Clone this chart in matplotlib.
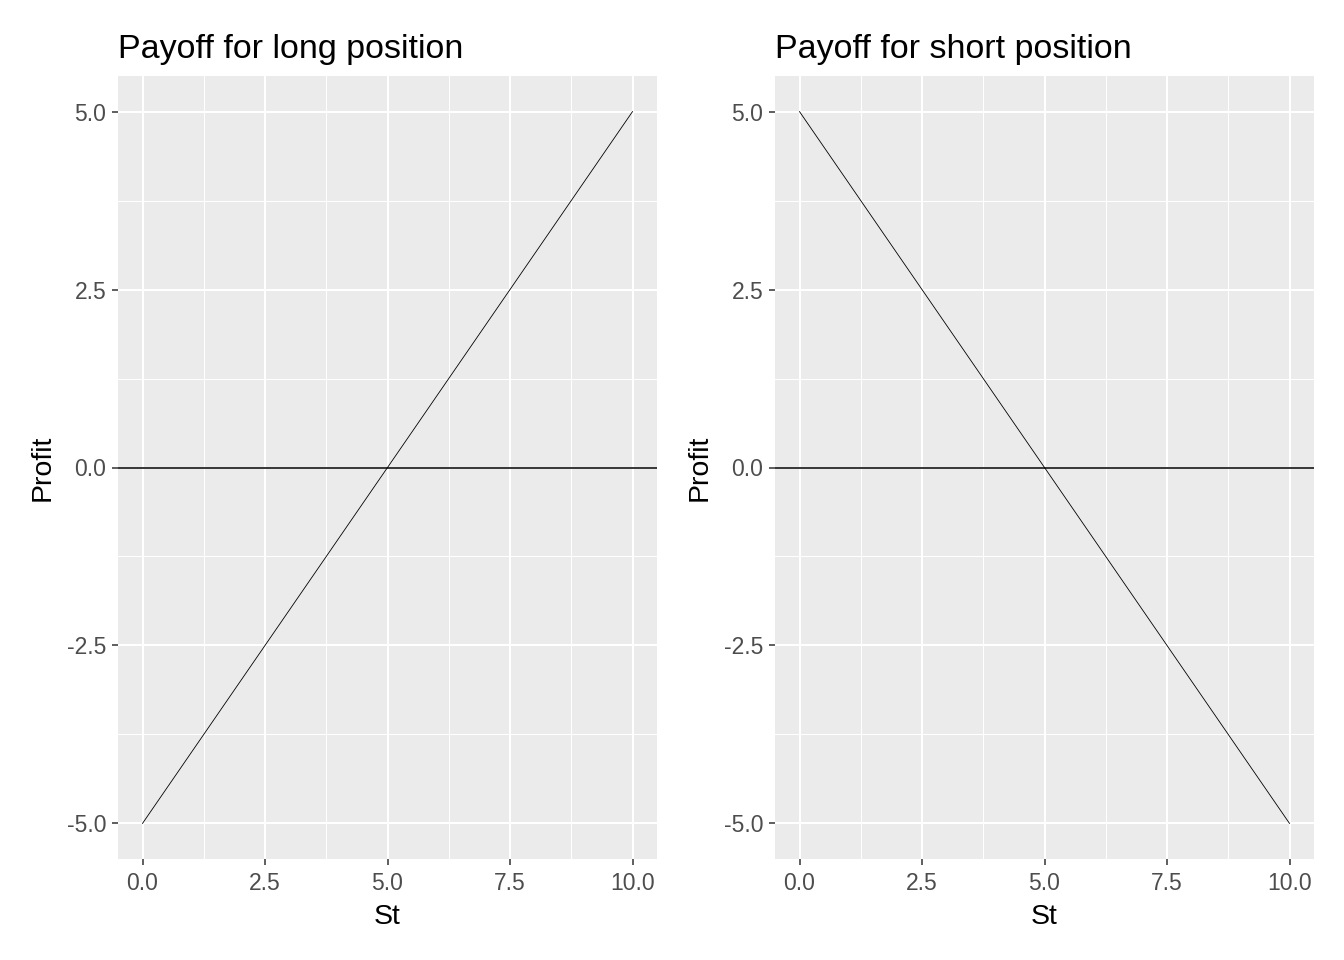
import matplotlib
matplotlib.use("Agg")
import matplotlib.pyplot as plt
import numpy as np

plt.rcParams['font.family'] = ['Liberation Sans', 'DejaVu Sans']

# data
st = [0, 10]
long_profit = [-5, 5]
short_profit = [5, -5]
titles = ["Payoff for long position", "Payoff for short position"]
ticks = [0.0, 2.5, 5.0, 7.5, 10.0]
yticks = [-5.0, -2.5, 0.0, 2.5, 5.0]

fig = plt.figure(figsize=(13.44, 9.6), dpi=100)
axes = [fig.add_axes([118 / 1344, 101 / 960, 539 / 1344, 783 / 960]),
        fig.add_axes([775 / 1344, 101 / 960, 539 / 1344, 783 / 960])]

for ax, prof, title in zip(axes, [long_profit, short_profit], titles):
    ax.set_facecolor("#EBEBEB")
    for s in ax.spines.values():
        s.set_visible(False)
    ax.set_xlim(-0.5, 10.5)
    ax.set_ylim(-5.5, 5.5)
    ax.set_xticks(ticks)
    ax.set_xticklabels([f"{t:.1f}" for t in ticks])
    ax.set_yticks(yticks)
    ax.set_yticklabels([f"{t:.1f}" for t in yticks])
    ax.set_xticks(np.arange(1.25, 10, 2.5), minor=True)
    ax.set_yticks(np.arange(-3.75, 5, 2.5), minor=True)
    ax.grid(True, which="major", color="white", linewidth=1.5)
    ax.grid(True, which="minor", color="white", linewidth=0.75)
    ax.tick_params(axis="both", which="major", colors="#333333", length=4,
                   width=1.1, labelsize=16.5, labelcolor="#4D4D4D")
    ax.tick_params(axis="x", which="major", pad=5.5)
    ax.tick_params(axis="y", which="major", pad=4.5)
    ax.tick_params(axis="both", which="minor", length=0)
    ax.set_axisbelow(True)
    ax.plot(st, prof, color="black", linewidth=0.6)
    ax.axhline(0, color="black", linewidth=1.1)
    ax.set_xlabel("St", fontsize=20.5, labelpad=6)
    ax.set_ylabel("Profit", fontsize=20.5, labelpad=8)
    ax.set_title(title, fontsize=24.5, loc="left", pad=13)

fig.savefig("out.png", dpi=100, facecolor="white")
